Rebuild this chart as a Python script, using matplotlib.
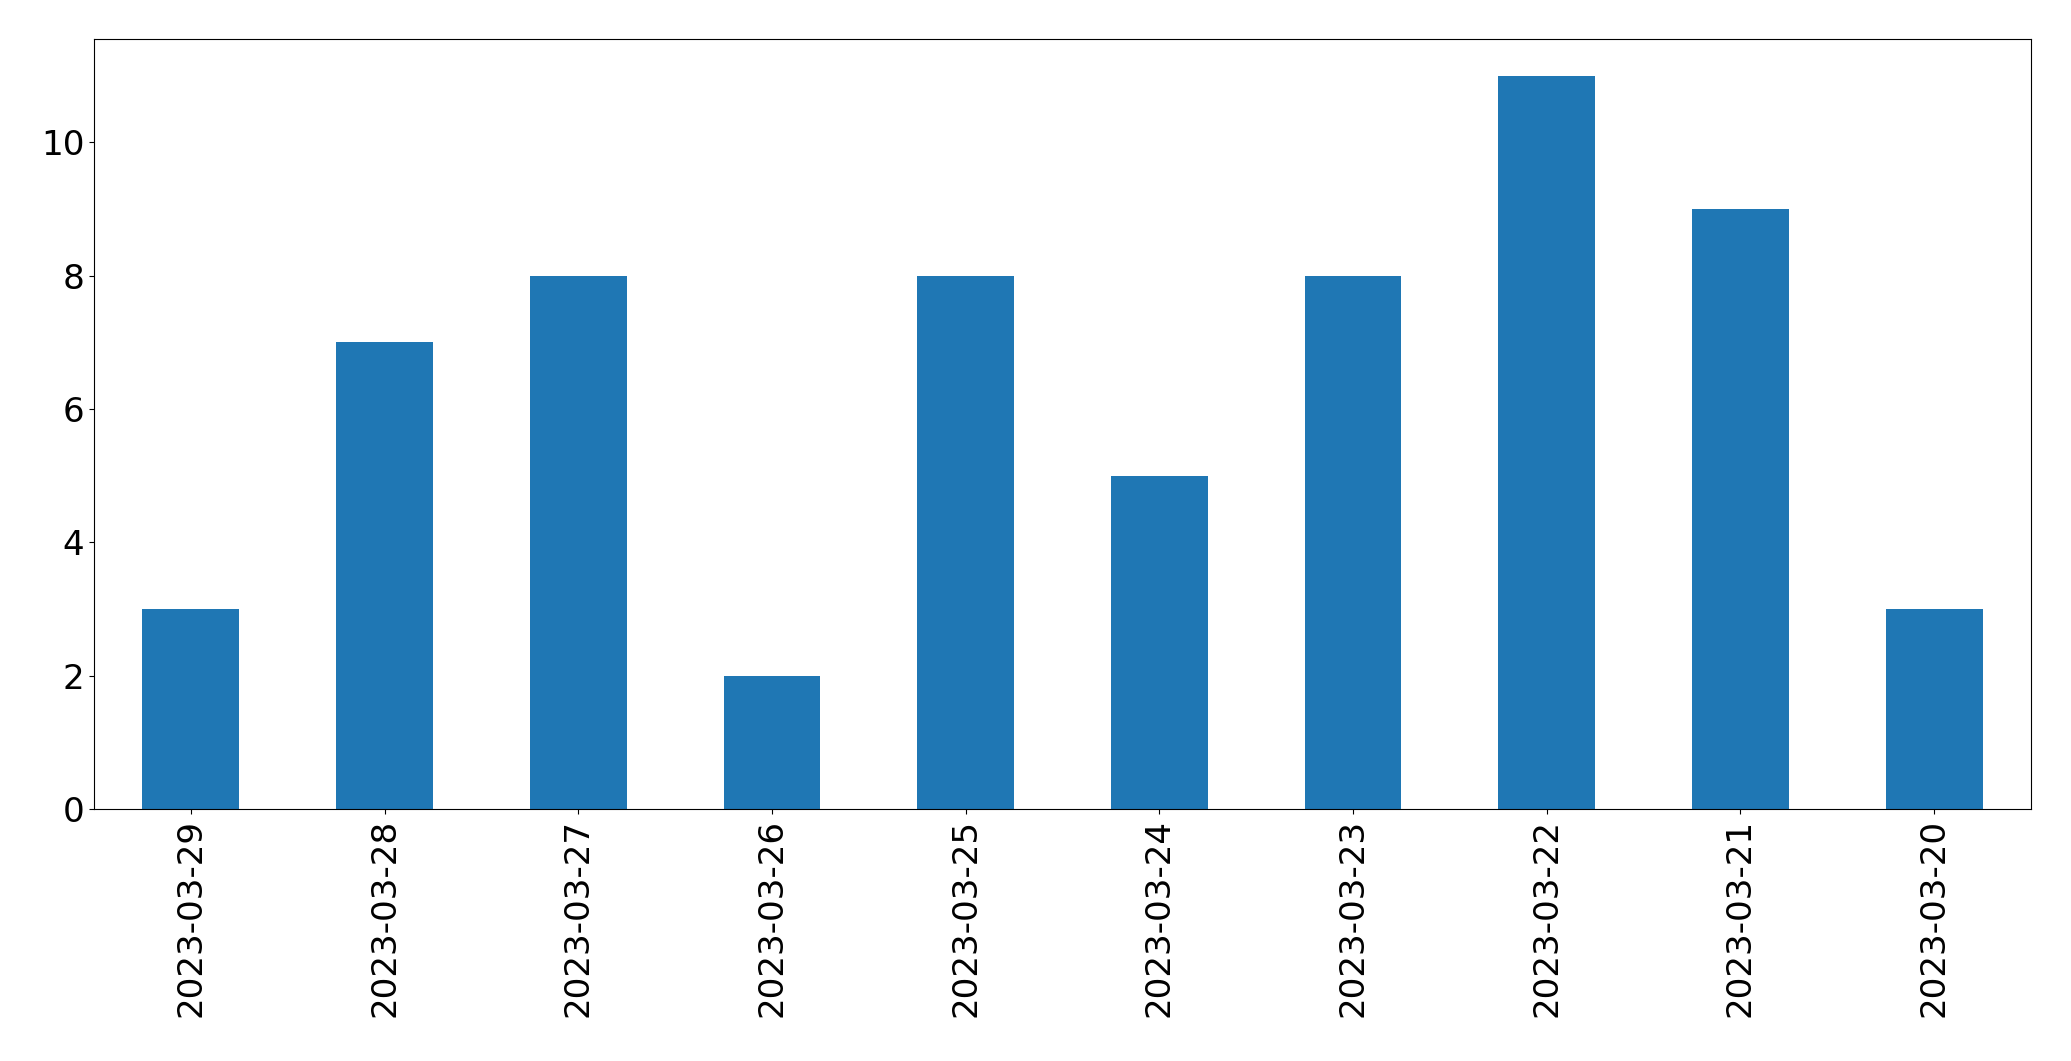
import matplotlib
matplotlib.use("Agg")
import matplotlib.pyplot as plt
import pandas as pd

dates = ["2023-03-29", "2023-03-28", "2023-03-27", "2023-03-26", "2023-03-25",
         "2023-03-24", "2023-03-23", "2023-03-22", "2023-03-21", "2023-03-20"]
counts = [3, 7, 8, 2, 8, 5, 8, 11, 9, 3]

series = pd.Series(counts, index=dates)

fig = plt.figure(figsize=(20.71, 10.61), dpi=100)
ax = fig.add_axes([94 / 2071, 1 - 809 / 1061, (2031 - 94) / 2071, (809 - 39) / 1061])
series.plot(kind="bar", ax=ax, color="#1f77b4", fontsize=24.6)

fig.savefig("out.png", dpi=100)
